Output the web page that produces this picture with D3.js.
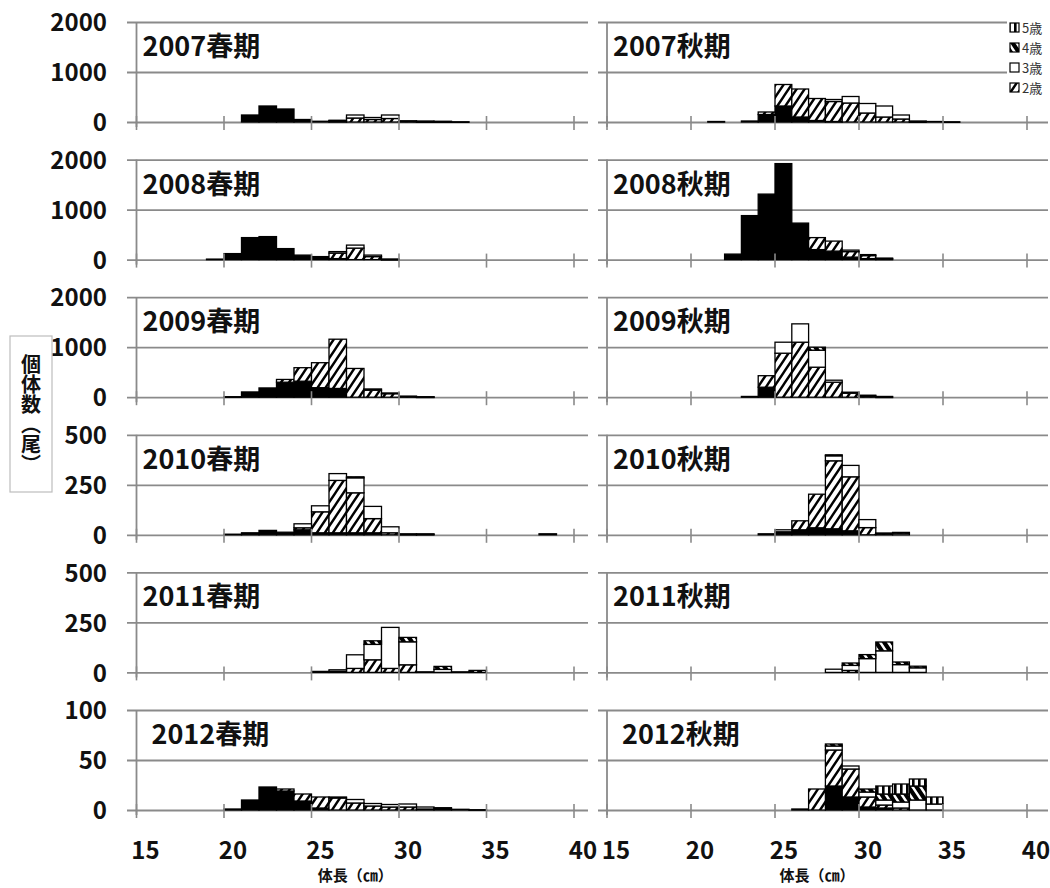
<!DOCTYPE html>
<html><head><meta charset="utf-8">
<script src="https://cdn.jsdelivr.net/npm/d3@7"></script>
<style>body{margin:0;background:#fff}svg{display:block}</style>
</head><body>
<svg id="chart" width="1050" height="888"></svg>
<script>
// Length-frequency by age class: [bin start (cm), 1歳, 2歳, 3歳, 4歳, 5歳]
const spring2007 = [[21,140,0,0,0,0],[22,320,0,0,0,0],[23,260,0,0,0,0],[24,50,0,0,0,0],[25,15,0,0,0,0],[26,10,15,10,0,0],[27,0,80,60,0,0],[28,0,50,40,0,0],[29,0,70,70,0,0],[30,0,10,15,0,0],[31,0,5,15,0,0],[32,0,5,10,0,0],[33,0,0,5,0,0]];
const autumn2007 = [[21,10,0,0,0,0],[23,20,0,0,0,0],[24,150,50,0,0,0],[25,320,430,0,0,0],[26,100,560,0,0,0],[27,30,440,0,0,0],[28,10,400,40,0,0],[29,0,380,130,0,0],[30,0,180,190,0,0],[31,0,100,220,0,0],[32,0,60,80,0,0],[33,0,5,15,0,0],[34,0,0,10,0,0],[35,0,0,5,0,0]];
const spring2008 = [[19,10,0,0,0,0],[20,120,0,0,0,0],[21,440,0,0,0,0],[22,460,0,0,0,0],[23,220,0,0,0,0],[24,90,0,0,0,0],[25,40,20,0,0,0],[26,20,110,30,0,0],[27,0,230,60,0,0],[28,0,60,30,0,0],[29,0,5,5,0,0]];
const autumn2008 = [[22,110,0,0,0,0],[23,880,0,0,0,0],[24,1310,0,0,0,0],[25,1920,0,0,0,0],[26,730,0,0,0,0],[27,200,240,0,0,0],[28,170,200,0,0,0],[29,50,110,30,0,0],[30,20,60,20,0,0],[31,10,10,10,0,0]];
const spring2009 = [[20,10,0,0,0,0],[21,105,0,0,0,0],[22,185,0,0,0,0],[23,300,55,0,0,0],[24,320,270,0,0,0],[25,190,500,0,0,0],[26,175,985,0,0,0],[27,0,575,0,0,0],[28,0,140,25,0,0],[29,0,70,15,0,0],[30,0,15,5,0,0],[31,0,5,5,0,0]];
const autumn2009 = [[23,15,0,0,0,0],[24,200,230,0,0,0],[25,0,880,220,0,0],[26,0,1100,367,0,0],[27,0,600,340,60,0],[28,0,300,40,0,0],[29,0,80,20,0,0],[30,0,25,15,0,0],[31,0,5,10,0,0]];
const spring2010 = [[20,3,0,0,0,0],[21,10,0,0,0,0],[22,22,0,0,0,0],[23,13,0,0,0,0],[24,25,10,20,0,0],[25,10,105,30,0,0],[26,10,262,34,0,0],[27,10,200,75,5,0],[28,10,71,61,0,0],[29,0,10,30,0,0],[30,0,2,3,0,0],[31,0,2,3,0,0],[38,5,0,0,0,0]];
const autumn2010 = [[24,5,0,0,0,0],[25,10,5,10,0,0],[26,25,45,0,0,0],[27,35,168,0,0,0],[28,30,340,25,5,0],[29,20,270,57,0,0],[30,0,36,40,0,0],[31,3,3,3,0,0],[32,0,0,8,4,0]];
const spring2011 = [[25,0,0,5,0,0],[26,0,5,8,0,0],[27,0,20,68,0,0],[28,0,63,77,18,0],[29,0,20,205,0,0],[30,0,38,115,22,0],[31,0,0,3,0,0],[32,0,0,15,15,0],[33,0,0,3,0,0],[34,0,0,0,10,0]];
const autumn2011 = [[28,0,0,16,0,0],[29,0,10,25,12,0],[30,0,0,69,20,0],[31,0,0,108,44,0],[32,0,0,39,13,0],[33,0,0,23,8,0]];
const spring2012 = [[20,1,0,0,0,0],[21,10,0,0,0,0],[22,23,0,0,0,0],[23,19,2,0,0,0],[24,9,7,0,0,0],[25,2,11,0,0,0],[26,0,12,1,0,0],[27,0,7,3.5,0,0],[28,0,4,2.5,0,0],[29,0,3,2.5,0,0],[30,0,3,3,0,0],[31,0,1,2,0,0],[32,0,1,1.3,0,0],[33,0,0,0.7,0,0],[34,0,0,0.3,0,0]];
const autumn2012 = [[26,0,1,0,0,0],[27,0,21,0,0,0],[28,24,36,4,2,0],[29,13,28,3,0,0],[30,3,10,5,3,0],[31,2,3,5,6,8],[32,0,2,6,8,10],[33,0,0,10,14,7],[34,0,0,6,0,7]];

const panelTitles = ["2007春期","2007秋期","2008春期","2008秋期","2009春期","2009秋期","2010春期","2010秋期","2011春期","2011秋期","2012春期","2012秋期"];
const panelData = [spring2007, autumn2007, spring2008, autumn2008, spring2009, autumn2009, spring2010, autumn2010, spring2011, autumn2011, spring2012, autumn2012];
const rowMax = [2000, 2000, 2000, 500, 500, 100];
const rowTicks = [[0,1000,2000],[0,1000,2000],[0,1000,2000],[0,250,500],[0,250,500],[0,50,100]];
const xTicks = [15, 20, 25, 30, 35, 40];
const ageKeys = ["age1","age2","age3","age4","age5"];
const legendLabels = ["5歳","4歳","3歳","2歳"];
const legendKeys = ["age5","age4","age3","age2"];
const xTitle = "体長（㎝）";
const yTitle = "個体数（尾）";

const FONT = "'Noto Sans CJK JP','Noto Sans',sans-serif";
const svg = d3.select("#chart");

// fill patterns per age class
const defs = svg.append("defs");
const pUp = defs.append("pattern").attr("id","p-age2").attr("patternUnits","userSpaceOnUse").attr("width",8).attr("height",12);
pUp.append("rect").attr("width",8).attr("height",12).attr("fill","#fff");
pUp.append("path").attr("d","M0,12L8,0M-2,3L2,-3M6,15L10,9").attr("stroke","#000").attr("stroke-width",2.4);
const pDown = defs.append("pattern").attr("id","p-age4").attr("patternUnits","userSpaceOnUse").attr("width",8).attr("height",12);
pDown.append("rect").attr("width",8).attr("height",12).attr("fill","#fff");
pDown.append("path").attr("d","M0,0L8,12M-2,9L2,15M6,-3L10,3").attr("stroke","#000").attr("stroke-width",4.2);
const pV = defs.append("pattern").attr("id","p-age5").attr("patternUnits","userSpaceOnUse").attr("width",6).attr("height",6);
pV.append("rect").attr("width",6).attr("height",6).attr("fill","#fff");
pV.append("rect").attr("width",2.6).attr("height",6).attr("fill","#000");

const fills = {age1:"#000", age2:"url(#p-age2)", age3:"#fff", age4:"url(#p-age4)", age5:"url(#p-age5)"};

const colRange = [[136.5, 574], [607, 1027]];
const gridSpan = [[127, 588], [598, 1048]];
const rowTop = i => 22 + i * 137.6;
const plotH = 100;
const gridColor = "#8a8a8a";

const stack = d3.stack().keys(ageKeys);

panelData.forEach((rows, p) => {
  const r = Math.floor(p / 2), c = p % 2;
  const top = rowTop(r);
  const x = d3.scaleLinear().domain([15, 40]).range(colRange[c]);
  const y = d3.scaleLinear().domain([0, rowMax[r]]).range([top + plotH, top]);
  const g = svg.append("g");

  // horizontal gridlines with value labels on the left column
  const yAxis = d3.axisLeft(y).tickValues(rowTicks[r])
    .tickSize(-(gridSpan[c][1] - gridSpan[c][0])).tickPadding(20)
    .tickFormat(c === 0 ? d3.format("d") : () => "");
  const ya = g.append("g").attr("transform", `translate(${gridSpan[c][0]},0)`).call(yAxis);
  ya.select(".domain").remove();
  ya.selectAll("line").attr("stroke", gridColor).attr("stroke-width", 1.8);
  ya.selectAll("text").attr("font-family", FONT).attr("font-weight", 700)
    .attr("font-size", 24).attr("fill", "#111").attr("dy", "0.36em");

  // stacked bars
  const table = rows.map(d => ({bin: d[0], age1: d[1], age2: d[2], age3: d[3], age4: d[4], age5: d[5]}));
  const series = stack(table);
  series.forEach(s => {
    g.append("g").selectAll("rect").data(s.filter(d => d[1] - d[0] > 0)).join("rect")
      .attr("x", d => x(d.data.bin))
      .attr("width", d => x(d.data.bin + 1) - x(d.data.bin))
      .attr("y", d => y(d[1]))
      .attr("height", d => Math.max(0.6, y(d[0]) - y(d[1])))
      .attr("fill", fills[s.key])
      .attr("stroke", "#000").attr("stroke-width", 1.3);
  });

  // vertical axis line and x tick marks
  const base = y(0);
  g.append("line").attr("x1", x(15)).attr("x2", x(15)).attr("y1", top).attr("y2", base + 5)
    .attr("stroke", gridColor).attr("stroke-width", 1.8);
  g.append("g").selectAll("line").data(xTicks).join("line")
    .attr("x1", d => x(d)).attr("x2", d => x(d)).attr("y1", base - 6).attr("y2", base + 8)
    .attr("stroke", gridColor).attr("stroke-width", 1.6);

  // panel title
  g.append("text").attr("x", r === 5 ? x(15) + 15 : x(15) + 6).attr("y", top + 34)
    .attr("font-family", FONT).attr("font-weight", 700).attr("font-size", 27)
    .attr("fill", "#111").text(panelTitles[p]);

  // x labels on the bottom row
  if (r === 5) {
    g.append("g").selectAll("text").data(xTicks).join("text")
      .attr("x", d => x(d) + 9).attr("y", 859).attr("text-anchor", "middle")
      .attr("font-family", FONT).attr("font-weight", 700).attr("font-size", 24).attr("fill", "#111")
      .text(d => d);
    g.append("text").attr("x", (colRange[c][0] + colRange[c][1]) / 2).attr("y", 881)
      .attr("text-anchor", "middle").attr("font-family", FONT).attr("font-weight", 700)
      .attr("font-size", 15).attr("fill", "#111").text(xTitle);
  }
});

// legend
const lg = svg.append("g");
lg.append("rect").attr("x", 1007).attr("y", 15).attr("width", 43).attr("height", 82).attr("fill", "#fff");
legendKeys.forEach((k, i) => {
  const cy = 28 + i * 20;
  lg.append("rect").attr("x", 1010).attr("y", cy - 5).attr("width", 9).attr("height", 9)
    .attr("fill", fills[k]).attr("stroke", "#000").attr("stroke-width", 1.2);
  lg.append("text").attr("x", 1022).attr("y", cy + 4.5).attr("font-family", FONT)
    .attr("font-size", 13).attr("fill", "#333").text(legendLabels[i]);
});

// y axis title in a box
svg.append("rect").attr("x", 10).attr("y", 336).attr("width", 42).attr("height", 156)
  .attr("fill", "#fff").attr("stroke", "#bdbdbd").attr("stroke-width", 1.2);
svg.append("text").attr("x", 31).attr("y", 414).attr("text-anchor", "middle")
  .attr("writing-mode", "vertical-rl").style("writing-mode", "vertical-rl")
  .attr("font-family", FONT).attr("font-weight", 700).attr("font-size", 20).attr("fill", "#111")
  .text(yTitle);
</script>
</body></html>
